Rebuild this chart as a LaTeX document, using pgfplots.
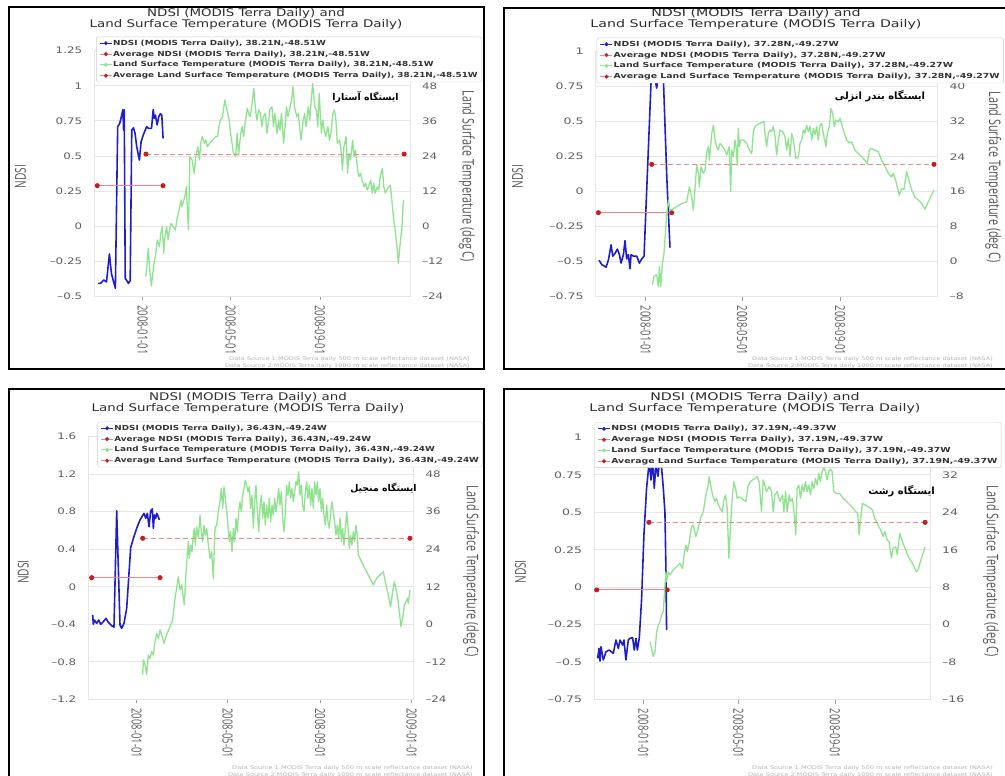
\documentclass[border=0pt]{standalone}
\usepackage{pgfplots}
\pgfplotsset{compat=1.18}
\usepackage{fontspec}
\setmainfont{DejaVu Sans}
\newfontfamily\widefont{DejaVu Sans}[FakeStretch=1.32]
\newfontfamily\widefontB{DejaVu Sans}[FakeStretch=1.40]
\newfontfamily\titlefont{DejaVu Sans}[FakeStretch=1.27]
\newfontfamily\titlefontB{DejaVu Sans}[FakeStretch=1.345]
\newfontfamily\legfont{DejaVu Sans}[FakeStretch=1.27]
\newfontfamily\legfontB{DejaVu Sans}[FakeStretch=1.345]
\newfontfamily\labfont{Open Sans}[FakeStretch=0.68]
\newfontfamily\arabicfont[Script=Arabic]{DejaVu Sans}
\TeXXeTstate=1
\definecolor{ndsiblue}{HTML}{1E1ECC}
\definecolor{lstgreen}{HTML}{8FE38F}
\definecolor{avgline}{HTML}{E58A8A}
\definecolor{avgdot}{HTML}{C41E1E}
\definecolor{gridc}{HTML}{E6E6E6}
\definecolor{ticklab}{HTML}{5F5F5F}
\definecolor{labc}{HTML}{555555}
\definecolor{titlec}{HTML}{2E2E2E}
\definecolor{legtext}{HTML}{333333}
\definecolor{legc}{HTML}{CCCCCC}
\definecolor{srcc}{HTML}{B5B5B5}
\newcommand\tickfnt{\widefont\fontsize{9}{9.5}\selectfont}
\newcommand\tickfntB{\widefontB\fontsize{9}{9.5}\selectfont}
\newcommand\titlefnt{\titlefont\fontsize{10.6}{11}\selectfont}
\newcommand\titlefntB{\titlefontB\fontsize{10.6}{11}\selectfont}
\newcommand\legfnt{\legfont\bfseries\fontsize{7}{7.5}\selectfont}
\newcommand\legfntB{\legfontB\bfseries\fontsize{7}{7.5}\selectfont}
\newcommand\labfnt{\labfont\fontsize{16}{17}\selectfont}
\newcommand\ndsifnt{\labfont\fontsize{15}{16}\selectfont}
\newcommand\xtfnt{\labfont\fontsize{14}{15}\selectfont}
\newcommand\srcfnt{\widefont\fontsize{5}{6}\selectfont}
\newcommand\arfnt{\arabicfont\bfseries\fontsize{9.4}{10}\selectfont}
\newcommand\arfntB{\arabicfont\bfseries\fontsize{10}{11}\selectfont}
\pgfplotsset{
  leftax/.style={
    scale only axis, anchor=south west,
    axis line style={draw=gridc, line width=0.6bp},
    ymajorgrids, grid style={draw=gridc, line width=0.6bp},
    ytick style={draw=none},
    xtick style={draw=ticklab!60, line width=0.6bp},
    tick align=outside, major tick length=4bp,
    yticklabel style={font=\tickfnt, text=ticklab, inner sep=0pt},
    yticklabel shift=8bp,
    xticklabel style={font=\xtfnt, text=ticklab, rotate=-90, anchor=west, inner sep=0pt},
    xticklabel shift=5bp,
    xtick={0,121,244},
    xticklabels={2008-01-01,2008-05-01,2008-09-01},
    ylabel style={font=\ndsifnt, text=labc},
  },
  rightax/.style={
    scale only axis, anchor=south west,
    axis x line=none, axis y line*=right,
    axis line style={draw=gridc, line width=0.6bp},
    ytick style={draw=none},
    yticklabel style={font=\tickfnt, text=ticklab, inner sep=0pt},
    yticklabel shift=12bp,
    ylabel style={font=\labfnt, text=labc},
    legend cell align=left,
    legend style={draw=legc, rounded corners=2bp, fill=white, font=\legfnt, text=legtext,
      inner xsep=3bp, inner ysep=2bp, row sep=2.1bp,
      nodes={inner sep=0.8bp, text height=5.6bp, text depth=1.5bp}},
  },
  ndsiline/.style={ndsiblue, line width=1.6bp, line join=round, forget plot},
  lstline/.style={lstgreen, line width=1.3bp, line join=round, forget plot},
  avgn/.style={avgline, line width=1bp, mark=*, mark size=2bp, mark options={avgdot, draw=avgdot, solid}, forget plot},
  avgt/.style={avgline, line width=1bp, dash pattern=on 5bp off 3bp, mark=*, mark size=2bp, mark options={avgdot, draw=avgdot, solid}, forget plot},
  leg1/.style={legend image code/.code={\draw[ndsiblue,line width=1bp] (0bp,0bp)--(4bp,0bp) (8bp,0bp)--(12bp,0bp); \fill[ndsiblue] (6bp,0bp) circle (1.8bp);}},
  leg2/.style={legend image code/.code={\draw[avgline,line width=1bp] (0bp,0bp)--(4bp,0bp) (8bp,0bp)--(12bp,0bp); \fill[avgdot] (6bp,0bp) circle (1.8bp);}},
  leg3/.style={legend image code/.code={\draw[lstgreen,line width=1bp] (0bp,0bp)--(4bp,0bp) (8bp,0bp)--(12bp,0bp); \fill[lstgreen] (6bp,0bp) circle (1.8bp);}},
  leg4/.style={legend image code/.code={\draw[avgline,line width=1bp] (0bp,0bp)--(4bp,0bp) (8bp,0bp)--(12bp,0bp); \fill[avgdot] (6bp,0bp) circle (1.8bp);}},
}
\begin{document}
\begin{tikzpicture}
\useasboundingbox (0,0) rectangle (1005bp,776bp);
\fill[white] (0,0) rectangle (1005bp,776bp);
% ================= PANEL 1 =================
\begin{axis}[leftax, at={(94.3bp,480bp)}, width=315.7bp, height=245.3bp,
  xmin=-66.6, xmax=368, ymin=-0.5, ymax=1.25,
  ytick={-0.5,-0.25,0,0.25,0.5,0.75,1,1.25},
  yticklabels={–0.5,–0.25,0,0.25,0.5,0.75,1,1.25},
  ylabel={NDSI},
  ylabel style={at={(axis description cs:-0.234,0.486)}, anchor=center}]
\addplot[ndsiline] coordinates {(-61.2,-0.41) (-58,-0.41) (-53.5,-0.386) (-49.8,-0.40) (-45.8,-0.20) (-43,-0.34) (-40,-0.40) (-37.6,-0.445) (-34.4,0.708) (-31.7,0.73) (-29.9,0.767) (-27.2,0.83) (-26.3,0.684) (-25.4,0.827) (-24,-0.374) (-19.5,-0.41) (-17.2,-0.39) (-15,0.684) (-12.7,0.70) (-10.5,0.66) (-8.2,0.565) (-4.5,0.47) (-2.2,0.6) (0.9,0.65) (3.6,0.684) (5.4,0.708) (7.7,0.696) (10,0.696) (12.2,0.696) (14.5,0.83) (15.9,0.767) (17.6,0.79) (19.9,0.72) (22.2,0.78) (24.4,0.80) (26.3,0.79) (28.1,0.625)};
\addplot[avgn] coordinates {(-62.5,0.287) (28,0.287)};
\end{axis}
\begin{axis}[rightax, at={(94.3bp,480bp)}, width=315.7bp, height=245.3bp,
  xmin=-66.6, xmax=368, ymin=-24, ymax=60,
  ytick={-24,-12,0,12,24,36,48,60},
  yticklabels={–24,–12,0,12,24,36,48,60},
  ylabel={Land Surface Temperature (deg C)},
  ylabel style={at={(axis description cs:1.18,0.488)}, rotate=180, anchor=center},
  legend style={at={(axis description cs:0.006,1.057)}, anchor=north west}]
\addplot[lstline] coordinates {(4.5,-17.4) (7.7,-7.7) (10,-16) (12,-20.6) (15,-14) (18,-9.4) (20,-4.8) (23,-7.1) (25,-2.5) (27,-0.3) (29,-9.4) (30,-4.8) (33,-0.3) (35,-4.8) (37,-1.4) (39,0.9) (42,-0.3) (45,-1.4) (47,2.0) (51,6.6) (53,8.9) (54,6.6) (58,10.0) (60,13.4) (63,-1.4) (65,23.7) (68,22.6) (71,18.0) (73,23.7) (76,27.1) (78,22.6) (80,28.3) (82,30.6) (85,28.3) (87,29.4) (89,27.1) (92,28.3) (96,29.4) (101,30.6) (103,30.6) (105,34.0) (107,36.3) (110,37.4) (113,43.1) (116,39.7) (119,36.3) (121,31.7) (123,28.3) (125,24.9) (128,23.7) (130,31.7) (132,24.3) (135,31.7) (137,34.0) (139,30.6) (141,35.1) (144,40.3) (146,38.5) (148,37.4) (150,40.8) (153,47.1) (155,40.8) (157,36.3) (160,39.7) (162,38.5) (164,34.0) (166,37.4) (169,38.5) (171,31.7) (173,35.1) (175,39.7) (178,40.8) (180,34.0) (182,38.5) (185,31.7) (187,36.3) (189,32.8) (191,38.5) (194,28.3) (196,34.0) (198,40.8) (200,37.4) (203,40.8) (205,43.1) (207,47.7) (209,40.8) (212,37.4) (214,38.5) (216,34.0) (218,29.4) (221,36.3) (223,38.5) (225,34.0) (228,40.8) (230,36.3) (232,43.1) (234,48.8) (237,40.8) (239,39.7) (241,34.0) (243,45.4) (246,31.7) (248,36.3) (250,32.8) (252,30.6) (255,34.0) (257,29.4) (259,31.7) (262,38.5) (264,39.7) (266,36.3) (268,28.3) (271,29.4) (273,26.0) (275,19.1) (277,27.1) (280,30.6) (282,18.0) (284,24.9) (286,22.6) (289,29.4) (291,23.7) (293,26.0) (296,19.1) (298,16.9) (300,18.0) (302,15.7) (305,13.4) (307,14.6) (309,12.3) (311,13.4) (314,15.7) (316,11.2) (318,14.6) (320,11.2) (323,13.4) (325,12.3) (327,16.9) (330,19.7) (332,13.4) (334,11.2) (336,12.3) (339,13.4) (341,14.0) (343,8.9) (345,3.2) (348,-2.5) (350,-7.1) (352,-12.8) (354,-7.1) (357,-0.3) (359,8.9)};
\addplot[avgt] coordinates {(4.5,24.6) (360,24.6)};
\addlegendimage{leg1}\addlegendentry{NDSI (MODIS Terra Daily), 38.21N,-48.51W}
\addlegendimage{leg2}\addlegendentry{Average NDSI (MODIS Terra Daily), 38.21N,-48.51W}
\addlegendimage{leg3}\addlegendentry{Land Surface Temperature (MODIS Terra Daily), 38.21N,-48.51W}
\addlegendimage{leg4}\addlegendentry{Average Land Surface Temperature (MODIS Terra Daily), 38.21N,-48.51W}
\end{axis}
% ================= PANEL 2 =================
\begin{axis}[leftax, at={(595.7bp,479.3bp)}, width=341.6bp, height=245bp,
  xmin=-62.8, xmax=366.2, ymin=-0.75, ymax=1,
  ytick={-0.75,-0.5,-0.25,0,0.25,0.5,0.75,1},
  yticklabels={–0.75,–0.5,–0.25,0,0.25,0.5,0.75,1},
  yticklabel style={font=\tickfntB},
  ylabel={NDSI},
  ylabel style={at={(axis description cs:-0.229,0.49)}, anchor=center}]
\addplot[ndsiline] coordinates {(-58.6,-0.49) (-55.2,-0.52) (-49.8,-0.54) (-46.9,-0.49) (-43.5,-0.38) (-41.4,-0.46) (-38.5,-0.44) (-35.6,-0.41) (-33,-0.45) (-31,-0.51) (-28,-0.45) (-26,-0.35) (-23.9,-0.48) (-21.8,-0.45) (-19.7,-0.55) (-18.4,-0.45) (-15.5,-0.46) (-11.3,-0.46) (-8,-0.51) (-5,-0.48) (-2.1,-0.46) (6.7,0.78) (9,0.88) (13.8,0.74) (17,0.88) (22,0.84) (26.5,0.10) (30.5,-0.40)};
\addplot[avgn] coordinates {(-59.4,-0.15) (32.6,-0.15)};
\end{axis}
\begin{axis}[rightax, at={(595.7bp,479.3bp)}, width=341.6bp, height=245bp,
  xmin=-62.8, xmax=366.2, ymin=-8, ymax=48,
  ytick={-8,0,8,16,24,32,40,48},
  yticklabels={–8,0,8,16,24,32,40,48},
  yticklabel style={font=\tickfntB},
  ylabel={Land Surface Temperature (deg C)},
  ylabel style={at={(axis description cs:1.164,0.488)}, rotate=180, anchor=center},
  legend style={at={(axis description cs:0.003,1.057)}, anchor=north west, font=\legfntB}]
\addplot[lstline] coordinates {(8.4,-5.3) (10.5,-3.3) (13.8,-3.0) (15.9,-5.7) (17.2,-1.1) (18.8,-5.7) (20.9,-0.4) (23,1.9) (26.4,11.0) (28.5,14.1) (30.6,11.8) (33.9,12.0) (38.9,12.6) (45.2,13.3) (51.5,13.7) (54.8,17.1) (57.8,14.8) (59.8,11.8) (61.9,16.7) (64,22.1) (66.1,20.2) (67.4,17.1) (69.5,21.7) (72.4,20.2) (74.5,20.9) (76.6,25.1) (78.7,26.3) (79.9,23.2) (82.9,29.3) (85,31.2) (87.1,27.8) (89.1,26.3) (91.2,25.5) (93.3,27.1) (96.7,26.3) (99.6,25.5) (101.7,24.4) (105,26.3) (106.7,16.0) (108,25.5) (110,24.0) (112.2,27.8) (113.4,26.3) (115.1,22.1) (116.3,30.5) (117.6,26.3) (119.3,27.8) (122.6,27.8) (126.8,27.1) (130.2,25.5) (133.1,24.7) (135.2,29.7) (137.3,30.9) (139.4,31.2) (142.7,31.6) (145.6,31.8) (148.6,32.0) (149.8,29.3) (151.9,26.3) (154,29.3) (156.1,30.1) (158.2,29.7) (160.3,30.9) (162.4,28.6) (164.5,24.4) (166.6,27.8) (168.7,30.1) (172,29.7) (174.9,28.6) (177,25.5) (179.1,28.2) (181.2,24.0) (183.3,29.3) (185.4,27.8) (188.7,23.6) (191.7,24.0) (193.8,27.1) (195.9,27.8) (198,30.1) (200,29.3) (202.1,31.2) (204.2,29.7) (206.3,30.9) (208.4,27.8) (210.5,30.5) (212.6,29.0) (214.7,30.9) (216.8,27.8) (218.9,31.2) (221,31.6) (223.1,29.3) (226.4,26.3) (228.1,29.3) (230.6,30.9) (232.7,35.0) (234.8,33.9) (236.9,30.9) (239,32.4) (241.9,32.0) (244,32.8) (248.2,30.1) (252.4,27.8) (255.7,27.1) (258.6,27.4) (262.8,25.5) (267,24.7) (271.2,24.0) (275.4,23.2) (278.3,22.3) (280.8,25.5) (283.7,25.9) (287.9,25.5) (292.1,25.1) (296.3,23.2) (300.5,21.7) (304.7,20.2) (308.9,19.4) (311,20.2) (314.3,18.3) (318.5,15.2) (321.4,16.7) (324.3,16.5) (327.7,20.6) (331,18.3) (334,16.4) (338.1,14.8) (342.3,14.1) (346.5,13.3) (350.7,12.0) (354.9,13.7) (362,16.4)};
\addplot[avgt] coordinates {(7.5,22.25) (362,22.25)};
\addlegendimage{leg1}\addlegendentry{NDSI (MODIS Terra Daily), 37.28N,-49.27W}
\addlegendimage{leg2}\addlegendentry{Average NDSI (MODIS Terra Daily), 37.28N,-49.27W}
\addlegendimage{leg3}\addlegendentry{Land Surface Temperature (MODIS Terra Daily), 37.28N,-49.27W}
\addlegendimage{leg4}\addlegendentry{Average Land Surface Temperature (MODIS Terra Daily), 37.28N,-49.27W}
\end{axis}
% ================= PANEL 3 =================
\begin{axis}[leftax, at={(88.3bp,76.7bp)}, width=325bp, height=262.6bp,
  xmin=-64.4, xmax=368.2, ymin=-1.2, ymax=1.6,
  ytick={-1.2,-0.8,-0.4,0,0.4,0.8,1.2,1.6},
  yticklabels={–1.2,–0.8,–0.4,0,0.4,0.8,1.2,1.6},
  xtick={0,121,244,366},
  xticklabels={2008-01-01,2008-05-01,2008-09-01,2009-01-01},
  ylabel={NDSI},
  ylabel style={at={(axis description cs:-0.2,0.485)}, anchor=center}]
\addplot[ndsiline] coordinates {(-58.6,-0.30) (-57.7,-0.40) (-56.3,-0.355) (-53.2,-0.39) (-50.6,-0.355) (-47.9,-0.40) (-45.2,-0.38) (-40.8,-0.337) (-37.7,-0.38) (-33.3,-0.415) (-30.2,-0.43) (-26.6,0.81) (-24.4,0.196) (-22.2,-0.408) (-20,-0.443) (-16.9,-0.39) (-13.3,-0.23) (-8,0.416) (-4.4,0.516) (0,0.623) (4.4,0.712) (9.8,0.783) (12,0.73) (14.2,0.783) (16.4,0.64) (18.6,0.81) (20.8,0.83) (22.2,0.623) (23.5,0.765) (25.3,0.73) (26.6,0.783) (28.8,0.747) (30.2,0.712)};
\addplot[avgn] coordinates {(-59.9,0.097) (31.1,0.097)};
\end{axis}
\begin{axis}[rightax, at={(88.3bp,76.7bp)}, width=325bp, height=262.6bp,
  xmin=-64.4, xmax=368.2, ymin=-24, ymax=60,
  ytick={-24,-12,0,12,24,36,48,60},
  yticklabels={–24,–12,0,12,24,36,48,60},
  ylabel={Land Surface Temperature (deg C)},
  ylabel style={at={(axis description cs:1.178,0.487)}, rotate=180, anchor=center},
  legend style={at={(axis description cs:0.028,1.057)}, anchor=north west}]
\addplot[lstline] coordinates {(8,-16.2) (8.9,-11.4) (11.1,-12.8) (13.3,-16) (15.5,-9.8) (17.7,-10.9) (20,-8.8) (22.2,-9.8) (24.4,-5.6) (26.6,-2.9) (28.8,-4.5) (31.1,-1.8) (33.3,-3.4) (36.4,-6.1) (39.9,-3.4) (44.4,-0.8) (47.9,1.4) (51,8.3) (53.2,11.5) (55.4,15.2) (57.7,11.0) (59.9,12.6) (62.1,8.3) (63.4,6.2) (65.7,16.8) (67.4,22.1) (68.8,26.4) (70.1,21.1) (71.9,25.3) (73.6,23.2) (75.4,28.5) (76.7,30.7) (78.1,25.3) (79.9,31.2) (82.1,27.5) (84.3,34.9) (86.1,29.6) (87.8,26.4) (89.6,31.7) (91.4,28.5) (93.2,30.7) (95.4,25.3) (97.6,21.1) (99.8,23.2) (102,14.7) (104.2,30.7) (106.5,31.7) (108.7,36.0) (110.9,39.2) (112.7,43.5) (114.5,37.1) (116.2,44.0) (118,40.3) (119.8,36.0) (121.5,31.7) (123.3,26.4) (125.1,29.6) (126.9,23.2) (128.6,30.7) (130.4,26.4) (132.2,33.9) (134,29.6) (135.7,36.0) (137.5,39.2) (139.3,36.0) (141.1,41.3) (142.8,43.5) (144.6,46.1) (146.4,44.5) (148.2,42.4) (149.9,44.0) (151.7,37.1) (153.5,41.3) (155.3,30.7) (157,39.2) (158.8,44.5) (160.6,36.0) (162.4,29.6) (164.1,37.1) (165.9,41.3) (167.7,33.9) (169.5,39.2) (171.2,31.7) (173,38.1) (174.8,33.9) (176.6,40.3) (178.3,32.8) (180.1,38.1) (181.9,34.9) (183.7,40.3) (185.4,36.0) (187.2,39.2) (189,43.5) (190.7,38.1) (192.5,42.4) (194.3,33.9) (196.1,29.6) (197.8,36.0) (199.6,44.5) (201.4,41.3) (203.2,45.6) (204.9,40.3) (206.7,43.5) (208.5,39.2) (210.3,42.4) (212,45.6) (213.8,44.5) (215.6,48.8) (217.4,41.3) (219.1,44.5) (220.9,38.1) (222.7,36.0) (224.5,42.4) (226.2,45.6) (228,40.3) (229.8,44.5) (231.6,38.1) (233.3,43.5) (235.1,37.1) (236.9,45.6) (238.7,41.3) (240.4,45.6) (242.2,39.2) (244,43.5) (245.8,36.0) (247.5,40.3) (249.3,34.9) (251.1,31.7) (252.9,38.1) (254.6,32.8) (256.4,30.7) (258.2,36.0) (260,39.2) (261.7,36.0) (263.5,32.8) (265.3,28.5) (267,31.7) (268.8,27.5) (270.6,33.9) (272.4,26.4) (274.1,30.7) (275.9,25.3) (277.7,30.7) (279.5,36.0) (281.2,31.7) (283,24.3) (284.8,28.5) (286.6,25.3) (288.3,29.6) (290.1,26.4) (291.9,31.7) (293.7,28.5) (295,22.1) (297.2,21.1) (301.6,18.9) (306.1,16.8) (310.5,14.7) (314.9,12.6) (319.4,14.7) (323.8,15.8) (328.3,16.8) (331.8,12.6) (334.9,9.4) (338,5.6) (340.7,10.4) (342.9,13.6) (345.1,11.5) (347.4,8.3) (349.6,4.0) (351.8,-0.8) (354,1.9) (356.3,6.2) (358.5,7.2) (360.2,8.3) (361.5,6.7) (363.8,11.0)};
\addplot[avgt] coordinates {(8,27.5) (363.8,27.5)};
\addlegendimage{leg1}\addlegendentry{NDSI (MODIS Terra Daily), 36.43N,-49.24W}
\addlegendimage{leg2}\addlegendentry{Average NDSI (MODIS Terra Daily), 36.43N,-49.24W}
\addlegendimage{leg3}\addlegendentry{Land Surface Temperature (MODIS Terra Daily), 36.43N,-49.24W}
\addlegendimage{leg4}\addlegendentry{Average Land Surface Temperature (MODIS Terra Daily), 36.43N,-49.24W}
\end{axis}
% ================= PANEL 4 =================
\begin{axis}[leftax, at={(594.3bp,76.3bp)}, width=335.7bp, height=262.4bp,
  xmin=-62.4, xmax=365.3, ymin=-0.75, ymax=1,
  ytick={-0.75,-0.5,-0.25,0,0.25,0.5,0.75,1},
  yticklabels={–0.75,–0.5,–0.25,0,0.25,0.5,0.75,1},
  yticklabel style={font=\tickfntB},
  ylabel={NDSI},
  ylabel style={at={(axis description cs:-0.22,0.487)}, anchor=center}]
\addplot[ndsiline] coordinates {(-58.1,-0.474) (-56.4,-0.408) (-55.2,-0.492) (-53.9,-0.397) (-50.9,-0.485) (-47.5,-0.43) (-43.3,-0.419) (-38.2,-0.441) (-34.8,-0.352) (-31.8,-0.408) (-29.7,-0.352) (-26.3,-0.385) (-24.6,-0.352) (-22.1,-0.485) (-19.1,-0.352) (-17,-0.341) (-13.6,-0.336) (-11.5,-0.419) (-9.3,-0.341) (-7.6,-0.419) (-5.1,-0.341) (-2.1,-0.074) (0.8,0.348) (4.2,0.66) (7.6,0.84) (9.8,0.715) (11.9,0.85) (14,0.66) (16.1,0.82) (18.7,0.74) (21.2,0.86) (23.3,0.80) (25.5,0.66) (27.6,0.50) (28.9,0.104) (29.7,-0.285)};
\addplot[avgn] coordinates {(-59.4,-0.018) (30.5,-0.018)};
\end{axis}
\begin{axis}[rightax, at={(594.3bp,76.3bp)}, width=335.7bp, height=262.4bp,
  xmin=-62.4, xmax=365.3, ymin=-16, ymax=40,
  ytick={-16,-8,0,8,16,24,32,40},
  yticklabels={–16,–8,0,8,16,24,32,40},
  yticklabel style={font=\tickfntB},
  ylabel={Land Surface Temperature (deg C)},
  ylabel style={at={(axis description cs:1.182,0.489)}, rotate=180, anchor=center},
  legend style={at={(axis description cs:0,1.057)}, anchor=north west, font=\legfntB}]
\addplot[lstline] coordinates {(8.5,-3.6) (10.6,-5.1) (12.7,-6.8) (14.9,-5.8) (17,-1.5) (19.1,-0.1) (21.2,0.6) (23.3,2.1) (25.5,2.8) (27.6,8.5) (28.9,11.3) (29.7,9.2) (31.8,11.3) (33.9,10.6) (38.2,11.7) (42.4,12.4) (46.7,13.1) (50.1,12.0) (52.2,15.2) (54.3,17.0) (56,15.6) (58.6,17.7) (61.5,20.9) (63.6,21.3) (67,18.8) (70,20.6) (73,22.7) (76.4,24.1) (78.5,26.3) (80.6,28.4) (82.7,29.8) (84,31.6) (85.7,29.8) (88.3,27.7) (91.2,26.3) (93.3,27.0) (95.5,25.6) (97.6,24.9) (100.6,24.1) (102.7,26.6) (104.8,27.7) (106.9,24.9) (109,14.2) (111.2,21.3) (113.7,27.7) (115.4,30.5) (117.5,29.1) (119.7,27.0) (122.2,27.3) (125.2,27.0) (128.1,26.6) (130.7,26.3) (133.7,29.8) (136.6,30.5) (139.2,30.9) (142.1,31.2) (145.1,31.6) (147.6,30.5) (150.6,24.1) (152.7,30.9) (154.9,29.8) (157,28.4) (160.4,29.5) (163.4,28.4) (165.5,24.1) (167.6,27.7) (170.6,28.4) (174,26.3) (177.4,27.7) (179.1,24.1) (181.2,28.4) (183.3,24.1) (185.8,27.7) (187.5,26.3) (190.1,27.0) (192.2,23.8) (194.3,19.2) (196,29.1) (198.1,29.8) (200.3,27.0) (202.4,29.8) (204.5,28.4) (206.6,30.5) (208.7,28.4) (210.9,29.8) (213,27.7) (215.1,30.5) (217.2,29.1) (219.4,31.2) (221.5,29.8) (223.6,32.3) (225.7,30.5) (227.8,32.7) (230,33.6) (232.1,32.7) (234.2,30.9) (236.3,32.7) (238.5,33.2) (240.6,32.7) (242.7,28.4) (246.1,28.0) (250.3,28.0) (254.6,27.0) (258.8,26.3) (263.1,25.6) (267.3,24.9) (270.7,24.1) (273.2,23.8) (274.9,19.2) (276.6,22.0) (279.2,25.9) (282.2,25.6) (286.4,25.2) (289.4,24.9) (292,24.5) (294.9,22.7) (299.1,21.3) (303.4,19.9) (305.5,18.8) (307.7,19.9) (310.6,18.1) (313.1,17.7) (316.1,14.2) (318.2,16.3) (321.6,16.6) (323.7,14.9) (326.7,19.5) (328.8,18.4) (331.8,17.0) (335.2,15.6) (338.6,14.2) (341.6,13.5) (345,12.4) (347.9,11.3) (350.1,11.7) (353.1,13.5) (356.4,15.2) (359,16.6)};
\addplot[avgt] coordinates {(7.2,21.85) (359,21.85)};
\addlegendimage{leg1}\addlegendentry{NDSI (MODIS Terra Daily), 37.19N,-49.37W}
\addlegendimage{leg2}\addlegendentry{Average NDSI (MODIS Terra Daily), 37.19N,-49.37W}
\addlegendimage{leg3}\addlegendentry{Land Surface Temperature (MODIS Terra Daily), 37.19N,-49.37W}
\addlegendimage{leg4}\addlegendentry{Average Land Surface Temperature (MODIS Terra Daily), 37.19N,-49.37W}
\end{axis}
% ================= TEXTS & FRAMES =================
\node[align=center, font=\titlefnt, text=titlec] at (246bp,756.5bp) {NDSI (MODIS Terra Daily) and\\Land Surface Temperature (MODIS Terra Daily)};
\node[align=center, font=\titlefntB, text=titlec] at (756bp,756.5bp) {NDSI (MODIS Terra Daily) and\\Land Surface Temperature (MODIS Terra Daily)};
\node[align=center, font=\titlefnt, text=titlec] at (248bp,372.5bp) {NDSI (MODIS Terra Daily) and\\Land Surface Temperature (MODIS Terra Daily)};
\node[align=center, font=\titlefntB, text=titlec] at (755bp,372.5bp) {NDSI (MODIS Terra Daily) and\\Land Surface Temperature (MODIS Terra Daily)};
\node[font=\arfnt, inner sep=0pt] at (365.5bp,679bp) {\beginR ایستگاه آستارا\endR};
\node[font=\arfntB, inner sep=0pt] at (880bp,680bp) {\beginR ایستگاه بندر انزلی\endR};
\node[font=\arfnt, inner sep=0pt] at (383.5bp,288bp) {\beginR ایستگاه منجیل\endR};
\node[font=\arfntB, inner sep=0pt] at (901.5bp,285bp) {\beginR ایستگاه رشت\endR};
\foreach \xr/\yb in {470/415, 993/415, 473/7, 993/7} {
  \node[anchor=base east, font=\srcfnt, text=srcc, inner sep=0pt] at (\xr bp,\yb bp) {Data Source 1:MODIS Terra daily 500 m scale reflectance dataset (NASA)};
  \node[anchor=base east, font=\srcfnt, text=srcc, inner sep=0pt] at (\xr bp,\yb bp-7bp) {Data Source 2:MODIS Terra daily 1000 m scale reflectance dataset (NASA)};
}
\draw[black, line width=1.6bp] (9bp,407bp) rectangle (484bp,769bp);
\draw[black, line width=1.6bp] (504bp,407bp) rectangle (1012bp,768bp);
\draw[black, line width=1.6bp] (9bp,-6bp) rectangle (484bp,387bp);
\draw[black, line width=1.6bp] (504bp,-6bp) rectangle (1012bp,387bp);
\end{tikzpicture}
\end{document}
